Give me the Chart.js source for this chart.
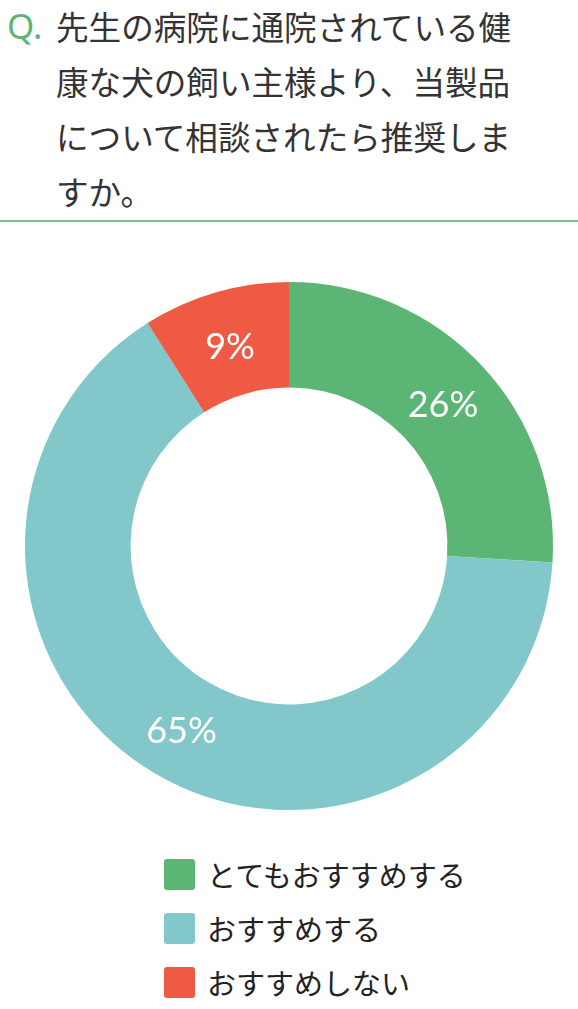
<!DOCTYPE html>
<html lang="ja">
<head>
<meta charset="utf-8">
<script src="https://cdn.jsdelivr.net/npm/chart.js@4/dist/chart.umd.min.js"></script>
<style>
  body { margin: 0; width: 578px; height: 1009px; background: #fff; overflow: hidden; position: relative; }
  #q { position: absolute; left: 7px; top: 2px; font-family: "Noto Sans", sans-serif; font-size: 35px; color: #5bb574; line-height: 48px; }
  #title { position: absolute; left: 56px; top: -2px; font-family: "Noto Sans CJK JP", sans-serif; font-size: 32.6px; color: #333; line-height: 55px; white-space: nowrap; }
  #rule { position: absolute; left: 0; top: 220px; width: 578px; height: 2px; background: #70c18a; }
  #wrap { position: absolute; left: 0; top: 282px; width: 578px; height: 528px; }
  #legend { position: absolute; left: 164px; top: 859px; font-family: "Noto Sans CJK JP", sans-serif; font-size: 29px; color: #222; }
  .row { height: 54px; display: flex; align-items: flex-start; }
  .box { width: 31px; height: 31px; border-radius: 3px; margin-right: 12px; }
  .lbl { line-height: 31px; }
</style>
</head>
<body>
<div id="q">Q.</div>
<div id="title">先生の病院に通院されている健<br>康な犬の飼い主様より、当製品<br>について相談されたら推奨しま<br>すか。</div>
<div id="rule"></div>
<div id="wrap"><canvas id="pie"></canvas></div>
<div id="legend"></div>
<script>
var categories = ["とてもおすすめする", "おすすめする", "おすすめしない"];
var values = [26, 65, 9];
var colors = ["#5bb574", "#82c8ca", "#ee5a43"];

// html legend from the arrays
var legend = document.getElementById("legend");
categories.forEach(function (name, i) {
  var row = document.createElement("div");
  row.className = "row";
  row.innerHTML = "<div class='box' style='background:" + colors[i] + "'></div><div class='lbl'>" + name + "</div>";
  legend.appendChild(row);
});

// percent labels in the middle of each ring piece
var pctLabels = {
  id: "pctLabels",
  afterDatasetsDraw: function (chart) {
    var ctx = chart.ctx;
    var meta = chart.getDatasetMeta(0);
    ctx.save();
    ctx.fillStyle = "#fff";
    ctx.font = "36px Lato, 'Noto Sans', sans-serif";
    ctx.textAlign = "center";
    ctx.textBaseline = "middle";
    meta.data.forEach(function (arc, i) {
      var p = arc.tooltipPosition();
      ctx.fillText(values[i] + "%", p.x, p.y + 4);
    });
    ctx.restore();
  },
};

new Chart(document.getElementById("pie"), {
  type: "doughnut",
  data: {
    labels: categories,
    datasets: [
      {
        data: values,
        backgroundColor: colors,
        borderWidth: 0,
        hoverOffset: 0,
      },
    ],
  },
  options: {
    responsive: true,
    maintainAspectRatio: false,
    animation: false,
    cutout: "60%",
    layout: { padding: 0 },
    plugins: {
      legend: { display: false },
      tooltip: { enabled: false },
    },
  },
  plugins: [pctLabels],
});
</script>
</body>
</html>
